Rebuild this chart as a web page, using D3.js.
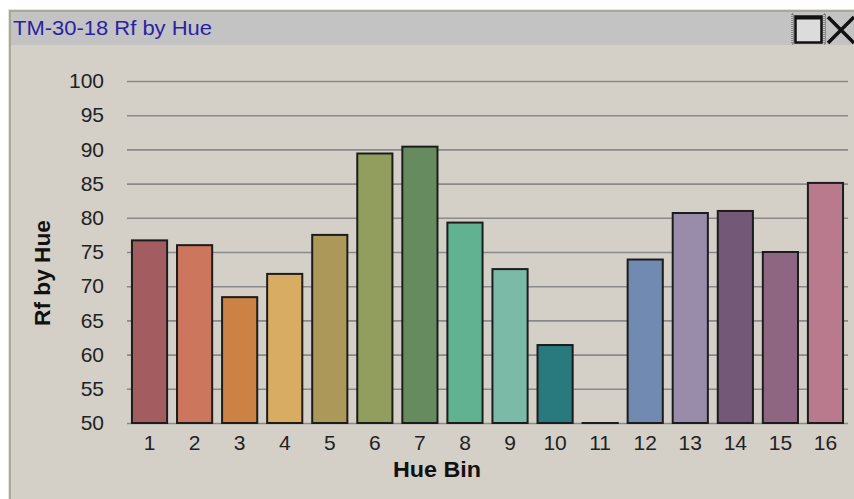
<!DOCTYPE html>
<html><head><meta charset="utf-8">
<script src="https://cdn.jsdelivr.net/npm/d3@7"></script>
<style>html,body{margin:0;padding:0;background:#fff;overflow:hidden}svg{display:block}</style>
</head><body>
<svg id="c" width="854" height="499"></svg>
<script>
const title = "TM-30-18 Rf by Hue";
const bins = ["1","2","3","4","5","6","7","8","9","10","11","12","13","14","15","16"];
const rfValues = [76.7, 76.0, 68.4, 71.8, 77.5, 89.4, 90.4, 79.3, 72.5, 61.4, 50.0, 73.9, 80.7, 81.0, 75.0, 85.1];
const binColors = ["#A35C60","#CC765E","#CC8145","#D8AC62","#AC9959","#919E5D","#668B5E","#61B290",
                   "#7BBAA6","#297A7E","#55788D","#708AB2","#988CAA","#735877","#8F6682","#BA7A8E"];
const yTicks = [50,55,60,65,70,75,80,85,90,95,100];
const xTitle = "Hue Bin", yTitle = "Rf by Hue";

const svg = d3.select("#c");
const W = 854, H = 499;
// window frame
svg.append("rect").attr("x",0).attr("y",0).attr("width",W).attr("height",H).attr("fill","#ffffff");
svg.append("rect").attr("x",8).attr("y",9).attr("width",W-8).attr("height",H-9).attr("fill","#e6e4de");
svg.append("rect").attr("x",9).attr("y",10).attr("width",W-9).attr("height",H-10).attr("fill","#aca896");
svg.append("rect").attr("x",11).attr("y",12).attr("width",W-11).attr("height",H-12).attr("fill","#d4d0c8");
// title bar
svg.append("rect").attr("x",11).attr("y",12).attr("width",W-11).attr("height",33).attr("fill","#c3c3c3");
svg.append("text").attr("x",13).attr("y",35).attr("font-family","Liberation Sans, Arial, sans-serif")
  .attr("font-size",20).attr("fill","#2a22a6").attr("textLength",199).attr("lengthAdjust","spacingAndGlyphs").text(title);
// maximize icon
const ic = svg.append("g");
ic.append("rect").attr("x",792).attr("y",14).attr("width",1.5).attr("height",30).attr("fill","none").attr("stroke","#555").attr("stroke-dasharray","1,1");
ic.append("rect").attr("x",795.5).attr("y",16.5).attr("width",26).attr("height",26).attr("fill","#dcdcdc").attr("stroke","#111").attr("stroke-width",2.5);
ic.append("rect").attr("x",795).attr("y",16).attr("width",27).attr("height",3.5).attr("fill","#111");
ic.append("rect").attr("x",824).attr("y",14).attr("width",1.5).attr("height",30).attr("fill","none").attr("stroke","#555").attr("stroke-dasharray","1,1");
ic.append("path").attr("d","M828,17 L854,43 M828,43 L854,17").attr("stroke","#111").attr("stroke-width",3.5).attr("fill","none");

// scales
const x = d3.scaleBand().domain(bins).range([127,848]).paddingInner(0.22).paddingOuter(0.11);
const y = d3.scaleLinear().domain([50,100]).range([423,81]);

// grid + y labels
const gy = svg.append("g").attr("transform","translate(127,0)")
  .call(d3.axisLeft(y).tickValues(yTicks).tickSize(-721).tickPadding(23).tickFormat(d3.format("d")));
gy.select(".domain").remove();
gy.selectAll(".tick line").attr("stroke","#8a8a8a").attr("stroke-width",1.6);
gy.selectAll(".tick text").attr("font-family","Liberation Sans, Arial, sans-serif").attr("font-size",21).attr("fill","#222");

// bars
svg.append("g").selectAll("rect").data(rfValues).join("rect")
  .attr("x",(d,i)=>x(bins[i])).attr("width",x.bandwidth())
  .attr("y",d=>y(Math.max(50,d))).attr("height",d=>Math.max(0.01, y(50)-y(Math.max(50,d))))
  .attr("fill",(d,i)=>binColors[i]).attr("stroke","#1c1c1c").attr("stroke-width",2);

// x labels
const gx = svg.append("g").attr("transform","translate(0,423)")
  .call(d3.axisBottom(x).tickSize(0));
gx.select(".domain").remove();
gx.selectAll(".tick text").attr("y",26.5).attr("dy",null)
  .attr("font-family","Liberation Sans, Arial, sans-serif").attr("font-size",21).attr("fill","#222");

// axis titles
svg.append("text").attr("x",437).attr("y",477).attr("text-anchor","middle")
  .attr("font-family","Liberation Sans, Arial, sans-serif").attr("font-weight","bold").attr("font-size",22)
  .attr("fill","#111").attr("textLength",88).attr("lengthAdjust","spacingAndGlyphs").text(xTitle);
svg.append("text").attr("transform","translate(50,273) rotate(-90)").attr("text-anchor","middle")
  .attr("font-family","Liberation Sans, Arial, sans-serif").attr("font-weight","bold").attr("font-size",22)
  .attr("fill","#111").attr("textLength",106).attr("lengthAdjust","spacingAndGlyphs").text(yTitle);
</script>
</body></html>
